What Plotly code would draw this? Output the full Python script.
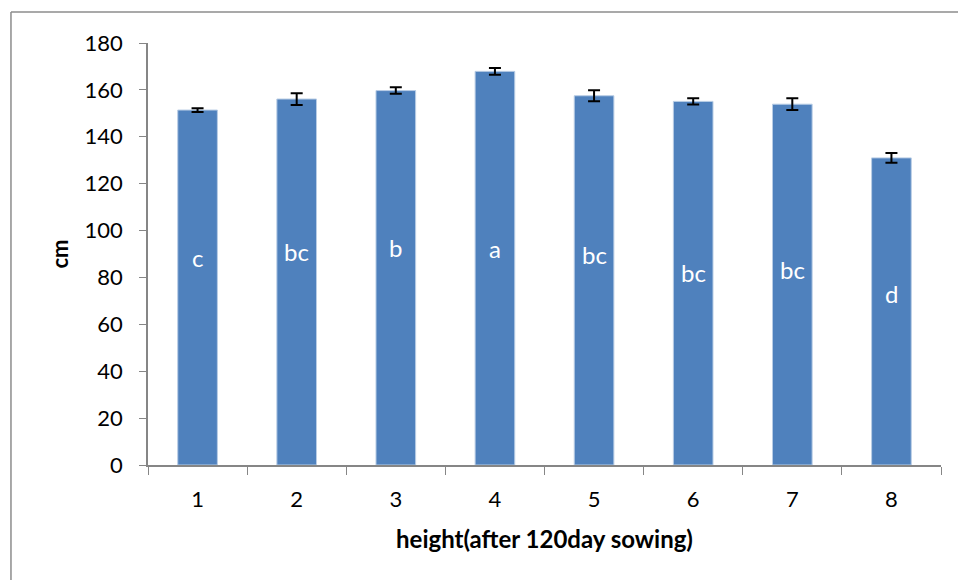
import plotly.graph_objects as go

categories = ["1", "2", "3", "4", "5", "6", "7", "8"]
heights = [151.4, 156.1, 159.7, 167.9, 157.5, 155.1, 153.9, 131.0]
errors = [0.8, 2.5, 1.4, 1.4, 2.3, 1.3, 2.5, 2.1]
letters = ["c", "bc", "b", "a", "bc", "bc", "bc", "d"]
letter_y = [88.6, 91.2, 92.9, 92.5, 89.6, 81.9, 83.4, 73.0]
y_ticks = [0, 20, 40, 60, 80, 100, 120, 140, 160, 180]

FONT = "Lato, Open Sans, sans-serif"
AXIS_GRAY = "#868686"

fig = go.Figure()
fig.add_trace(go.Bar(
    x=categories, y=heights,
    marker=dict(color="#4F81BD", line=dict(color="#B9CDE5", width=1)),
    error_y=dict(type="data", array=errors, visible=True, color="black", thickness=2, width=6),
    showlegend=False,
))

for i, (lab, ly) in enumerate(zip(letters, letter_y)):
    fig.add_annotation(x=i, y=ly, text=lab, showarrow=False,
                       font=dict(family=FONT, size=24, color="white"))

# outer chart-area frame (top and left edges visible in the picture)
fig.add_shape(type="line", xref="paper", yref="paper",
              x0=-0.1728, x1=1.2, y0=1.0735, y1=1.0735,
              line=dict(color="#8C8C8C", width=1.5), layer="below")
fig.add_shape(type="line", xref="paper", yref="paper",
              x0=-0.1728, x1=-0.1728, y0=-0.6, y1=1.0735,
              line=dict(color="#8C8C8C", width=1.5), layer="below")

fig.update_layout(
    width=958, height=580,
    margin=dict(l=148, r=17, t=43, b=115),
    paper_bgcolor="white", plot_bgcolor="white",
    bargap=0.6,
    font=dict(family=FONT, size=22, color="black"),
    xaxis=dict(
        type="category", range=[-0.5, 7.5], tickson="boundaries", ticks="outside", ticklen=8,
        tickcolor=AXIS_GRAY, showline=True, linecolor=AXIS_GRAY, linewidth=1.5,
        showgrid=False, tickfont=dict(size=22), ticklabelstandoff=14,
        title=dict(text="<b>height(after 120day sowing)</b>", font=dict(size=24), standoff=20),
    ),
    yaxis=dict(
        range=[0, 180], tickvals=y_ticks, ticks="outside", ticklen=7,
        tickcolor=AXIS_GRAY, showline=True, linecolor=AXIS_GRAY, linewidth=1.5,
        showgrid=False, zeroline=False, tickfont=dict(size=22), ticklabelstandoff=12,
        title=dict(text="<b>cm</b>", font=dict(size=22), standoff=10),
    ),
)

fig.write_html(
    "out.html",
    config={"displayModeBar": False},
    post_script="document.body.style.margin='0';document.body.style.overflow='hidden';",
)
